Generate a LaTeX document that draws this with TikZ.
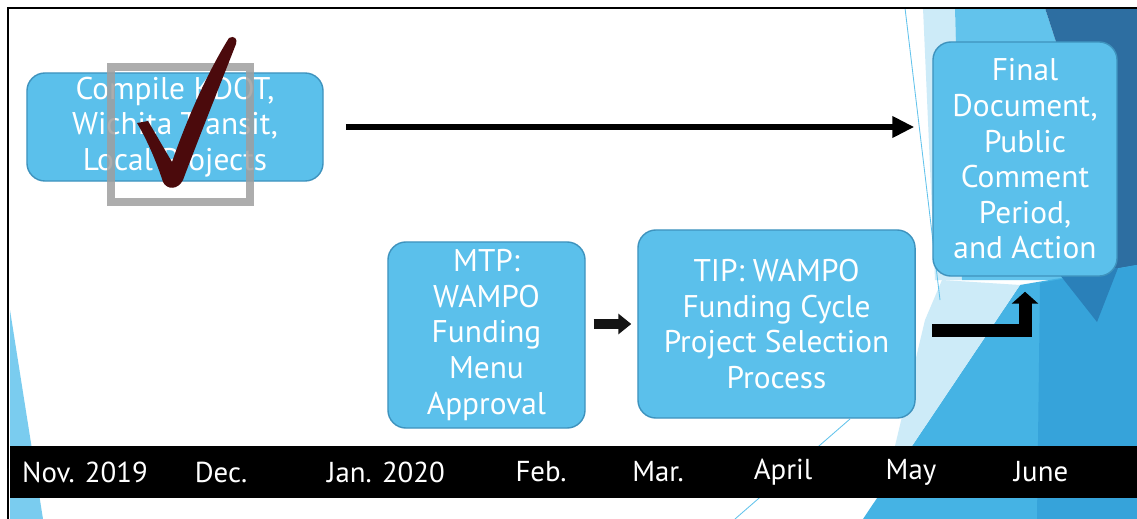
\documentclass[tikz,border=0pt]{standalone}
\usepackage{fontspec}
\setmainfont{PT Sans}
\usepackage{tikz}
\usetikzlibrary{arrows.meta,positioning,calc}

\definecolor{boxfill}{HTML}{5BC0EB}
\definecolor{boxedge}{HTML}{3E93BE}
\definecolor{bgpale}{HTML}{CDEBF8}
\definecolor{bglight}{HTML}{62C3EC}
\definecolor{bgmid}{HTML}{45B3E4}
\definecolor{bgdeep}{HTML}{36A3DA}
\definecolor{bgwedge}{HTML}{2A80B9}
\definecolor{bgdark}{HTML}{2D6EA1}
\definecolor{checkred}{HTML}{4B0A0C}

\begin{document}
\begin{tikzpicture}[x=0.025cm,y=-0.025cm]
\tikzstyle{stage}=[rectangle, rounded corners=18*0.025cm, draw=boxedge, line width=1pt, fill=boxfill, text=white, align=center, inner sep=0pt, font=\fontsize{22.3}{25.3}\selectfont]
\tikzstyle{month}=[text=white, inner sep=0pt, font=\fontsize{20.5}{24}\selectfont]
\tikzstyle{longarrow}=[line width=4.3pt, -{Triangle[length=15.6pt,width=14.5pt]}]
\tikzstyle{blockarrow}=[line width=7.8pt, color=black!92, -{Triangle[length=9.2pt,width=14.2pt]}]
\tikzstyle{bentarrow}=[line width=9.25pt, -{Triangle[length=8.5pt,width=18.5pt]}]

\useasboundingbox (0,0) rectangle (1137,519);
\fill[white] (0,0) rectangle (1137,519);

\fill[bgpale] (923,8) -- (955,8) -- (962,280) -- (935,280) -- cycle;
\fill[bglight] (955,8) -- (1045,8) -- (1075,100) -- (1062,280) -- (962,280) -- cycle;
\fill[bgdark] (1045,8) -- (1137,8) -- (1137,268) -- (1062,280) -- (1075,100) -- cycle;
\fill[bgmid] (863,519) -- (1020,285) -- (1137,265) -- (1137,519) -- cycle;
\fill[bgdeep] (1037,519) -- (1040,283) -- (1137,265) -- (1137,519) -- cycle;
\fill[bgwedge] (1060,275) -- (1118,268) -- (1097,322) -- cycle;
\fill[bgpale] (895,446) -- (912,446) -- (1020,285) -- (942,280) -- (925,320) -- cycle;
\fill[bglight!85!white] (10,310) -- (43,519) -- (10,519) -- cycle;
\draw[bglight, line width=0.6pt] (905,8) -- (940,300);
\draw[bglight, line width=0.6pt] (850,419) -- (735,519);

\fill[black] (10,446) rectangle (1137,498);
\draw[black, line width=1.8pt] (8,519) -- (8,8) -- (1137,8);

\node[stage, minimum width=7.4cm, minimum height=2.7cm] (compile) at (175,127) {Compile KDOT,\\Wichita Transit,\\Local Projects};
\node[stage, minimum width=4.925cm, minimum height=4.65cm] (mtp) at (486.5,335) {MTP:\\WAMPO\\Funding\\Menu\\Approval};
\node[stage, minimum width=6.925cm, minimum height=4.7cm] (tip) at (776.5,324) {TIP: WAMPO\\Funding Cycle\\Project Selection\\Process};
\node[stage, minimum width=4.6cm, minimum height=5.85cm] (final) at (1025,159) {Final\\Document,\\Public\\Comment\\Period,\\and Action};

\node[month] (nov) at (85,472) {Nov. 2019};
\node[month] (dec) at (221,472) {Dec.};
\node[month] (jan) at (386,472) {Jan. 2020};
\node[month] (feb) at (541,472) {Feb.};
\node[month] (mar) at (658,472) {Mar.};
\node[month] (apr) at (783,472) {April};
\node[month] (may) at (911,472) {May};
\node[month] (jun) at (1041,472) {June};

\draw[longarrow, shorten <=0.55cm, shorten >=0.45cm] (compile.east) -- (compile.east -| final.west);
\draw[blockarrow, shorten <=0.2cm, shorten >=0.15cm] (mtp.east |- tip.west) -- (tip.west);
\coordinate (bendstart) at (final.west |- 0,330.5);
\draw[bentarrow, shorten >=0.375cm] (bendstart) -| (final.south);

\draw[gray!75, opacity=0.85, line width=5.7pt] (111,67) rectangle (250,202);
\fill[checkred] (137,123) -- (148,121) .. controls (158,138) and (166,152) .. (172,162)
  .. controls (190,110) and (212,65) .. (229,38) .. controls (234,35) and (238,39) .. (236,44)
  .. controls (220,85) and (198,140) .. (183,180) .. controls (178,190) and (167,190) .. (163,182)
  .. controls (156,160) and (146,138) .. cycle;
\end{tikzpicture}
\end{document}
